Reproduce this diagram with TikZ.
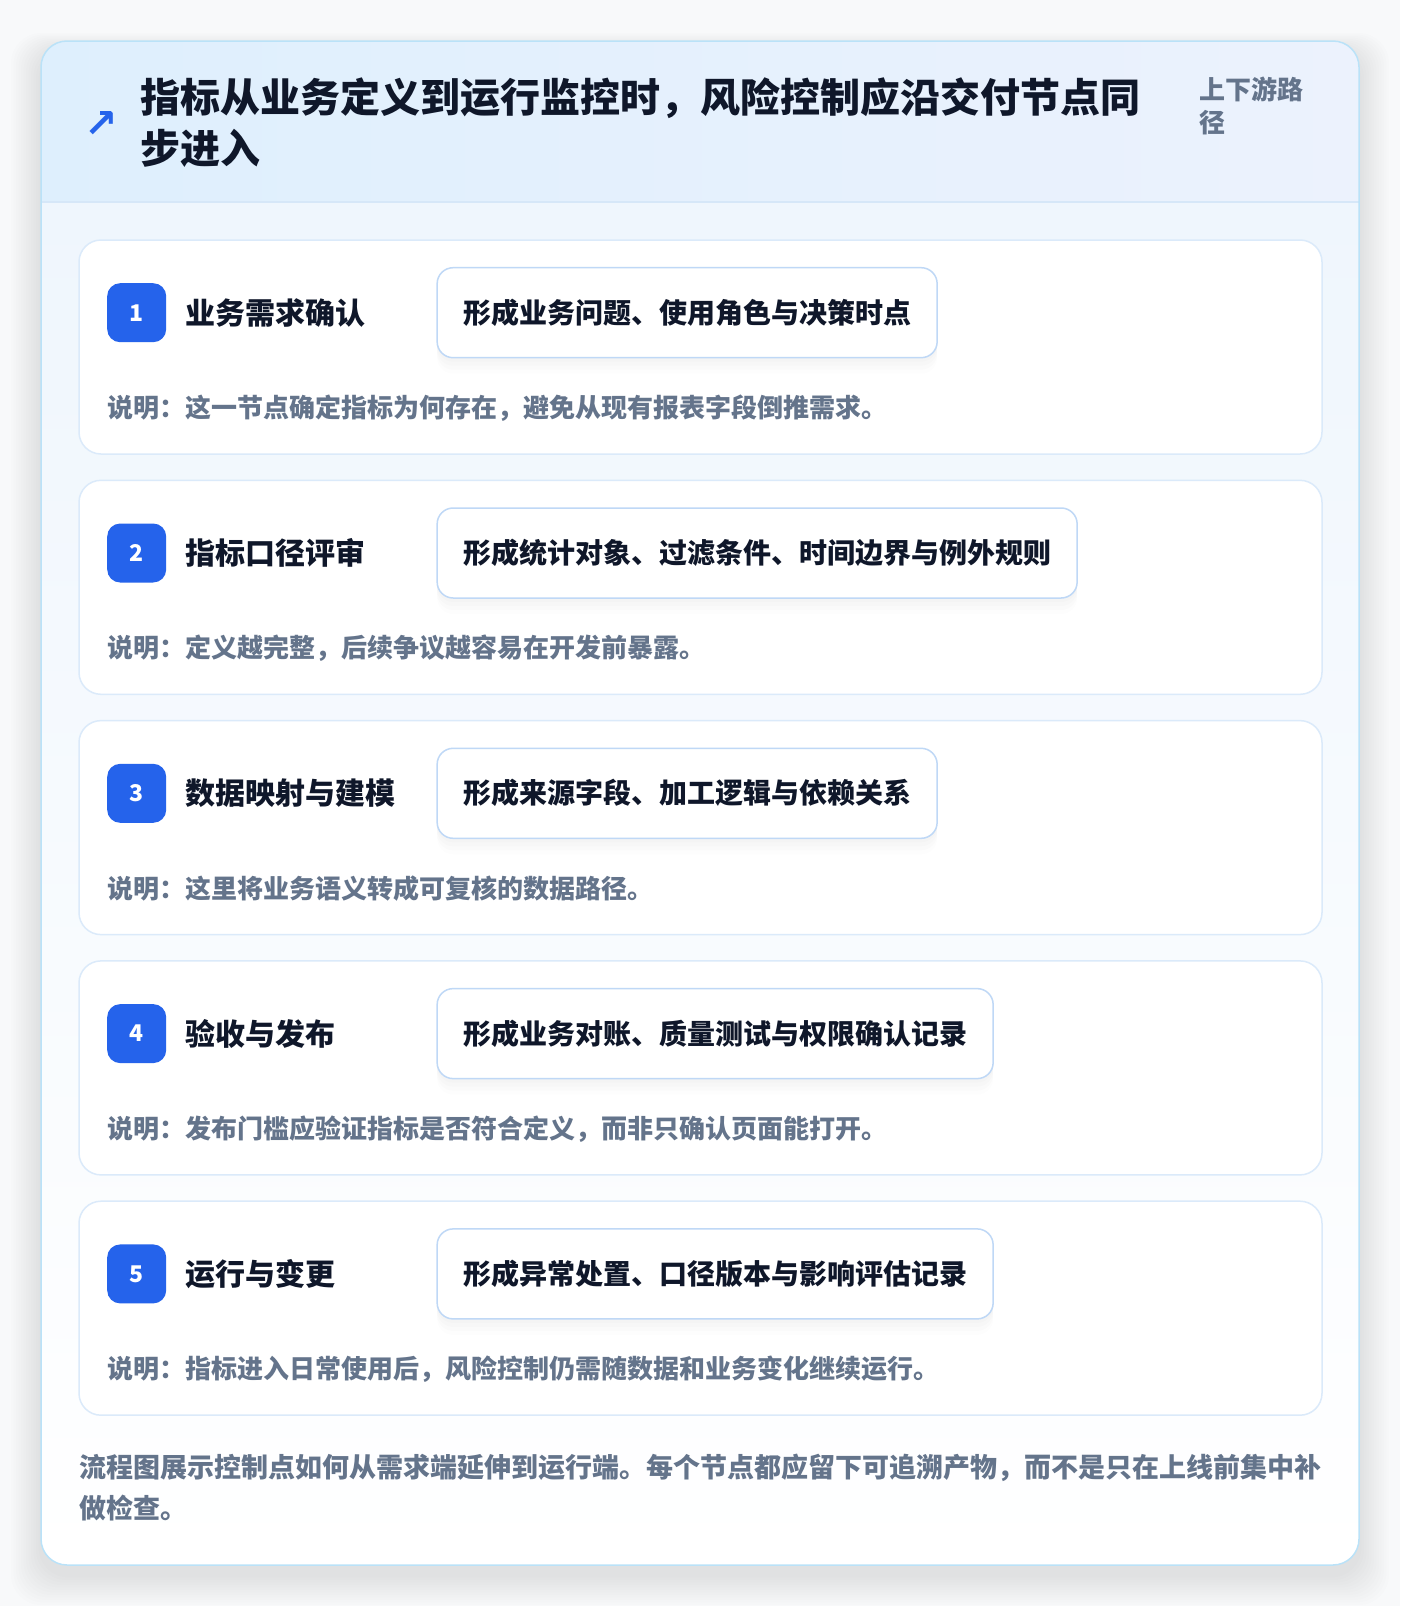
\documentclass[tikz,border=0pt]{standalone}
\usepackage{fontspec}
\setmainfont{Noto Sans CJK SC}
\newfontfamily\symfont{DejaVu Sans}
\usetikzlibrary{positioning}

\definecolor{pagebg}{HTML}{F8F9FA}
\definecolor{frame}{HTML}{BAE2F8}
\definecolor{headl}{HTML}{DEEFFD}
\definecolor{headr}{HTML}{ECF2FD}
\definecolor{headline}{HTML}{D6E7F8}
\definecolor{bodytop}{HTML}{EFF6FD}
\definecolor{cardline}{HTML}{DBEAFA}
\definecolor{boxline}{HTML}{BFD8F6}
\definecolor{badgeblue}{HTML}{2563EB}
\definecolor{ink}{HTML}{0F172A}
\definecolor{muted}{HTML}{64748B}

\begin{document}
\begin{tikzpicture}[x=1pt,y=-1pt]
    \tikzstyle{card}=[draw=cardline,line width=1.5pt,fill=white,rounded corners=22pt,minimum width=1243pt,minimum height=214pt,inner sep=0pt,outer sep=0pt]
    \tikzstyle{badge}=[fill=badgeblue,rounded corners=13pt,minimum size=59pt,inner sep=0pt,text=white,font=\fontsize{23}{23}\selectfont\bfseries]
    \tikzstyle{stitle}=[inner sep=0pt,text=ink,font=\fontsize{30}{30}\selectfont\bfseries]
    \tikzstyle{outbox}=[draw=boxline,line width=1.5pt,fill=white,rounded corners=16pt,minimum height=90pt,inner xsep=26pt,inner ysep=0pt,text=ink,font=\fontsize{28}{28}\selectfont\bfseries,
      preaction={fill=black,opacity=0.012,transform canvas={yshift=-4pt}},
      preaction={fill=black,opacity=0.012,transform canvas={yshift=-8pt}},
      preaction={fill=black,opacity=0.01,transform canvas={yshift=-12pt}},
      preaction={fill=black,opacity=0.008,transform canvas={yshift=-16pt}}]
    \tikzstyle{note}=[inner sep=0pt,text=muted,font=\fontsize{26}{26}\selectfont\bfseries]
    \useasboundingbox (0,0) rectangle (1400,1606);
    \fill[pagebg] (0,0) rectangle (1400,1606);
    % soft shadow under the panel
    \foreach \k in {1,...,12}
      \fill[black,opacity=0.008,rounded corners=30pt] (41-2.5*\k,51-1.5*\k) rectangle (1359+2.5*\k,1575+2.5*\k);
    \begin{scope}
      \clip[rounded corners=26pt] (41,41) rectangle (1359,1565);
      \shade[top color=bodytop,bottom color=white] (41,202) rectangle (1359,1565);
      \shade[left color=headl,right color=headr] (41,41) rectangle (1359,202);
    \end{scope}
    \draw[headline,line width=1.5pt] (41,202) -- (1359,202);
    \draw[frame,line width=1.5pt,rounded corners=26pt] (41,41) rectangle (1359,1565);

    % header
    \node[text=badgeblue,inner sep=0pt,font=\symfont\fontsize{40}{40}\selectfont\bfseries] (icon) at (101.5,125) {↗};
    \node[anchor=north west,inner sep=0pt,align=left,text=ink,font=\fontsize{40}{51}\selectfont\bfseries] (ttl) at (140,78)
      {指标从业务定义到运行监控时，风险控制应沿交付节点同\\步进入};
    \node[anchor=north west,inner sep=0pt,align=left,text=muted,font=\fontsize{26}{33}\selectfont\bfseries] (tag) at (1199,77)
      {上下游路\\径};

    % step 1
    \node[card,anchor=north west] (c1) at (79,240) {};
    \node[badge,below right=43pt and 28pt of c1.north west] (b1) {1};
    \node[stitle,right=19pt of b1] (t1) {业务需求确认};
    \node[outbox,right=270pt of b1] (o1) {形成业务问题、使用角色与决策时点};
    \node[note,below right=168pt and 28pt of c1.north west,anchor=west] (d1) {说明：这一节点确定指标为何存在，避免从现有报表字段倒推需求。};

    % step 2
    \node[card,below=26.3pt of c1] (c2) {};
    \node[badge,below right=43pt and 28pt of c2.north west] (b2) {2};
    \node[stitle,right=19pt of b2] (t2) {指标口径评审};
    \node[outbox,right=270pt of b2] (o2) {形成统计对象、过滤条件、时间边界与例外规则};
    \node[note,below right=168pt and 28pt of c2.north west,anchor=west] (d2) {说明：定义越完整，后续争议越容易在开发前暴露。};

    % step 3
    \node[card,below=26.3pt of c2] (c3) {};
    \node[badge,below right=43pt and 28pt of c3.north west] (b3) {3};
    \node[stitle,right=19pt of b3] (t3) {数据映射与建模};
    \node[outbox,right=270pt of b3] (o3) {形成来源字段、加工逻辑与依赖关系};
    \node[note,below right=168pt and 28pt of c3.north west,anchor=west] (d3) {说明：这里将业务语义转成可复核的数据路径。};

    % step 4
    \node[card,below=26.3pt of c3] (c4) {};
    \node[badge,below right=43pt and 28pt of c4.north west] (b4) {4};
    \node[stitle,right=19pt of b4] (t4) {验收与发布};
    \node[outbox,right=270pt of b4] (o4) {形成业务对账、质量测试与权限确认记录};
    \node[note,below right=168pt and 28pt of c4.north west,anchor=west] (d4) {说明：发布门槛应验证指标是否符合定义，而非只确认页面能打开。};

    % step 5
    \node[card,below=26.3pt of c4] (c5) {};
    \node[badge,below right=43pt and 28pt of c5.north west] (b5) {5};
    \node[stitle,right=19pt of b5] (t5) {运行与变更};
    \node[outbox,right=270pt of b5] (o5) {形成异常处置、口径版本与影响评估记录};
    \node[note,below right=168pt and 28pt of c5.north west,anchor=west] (d5) {说明：指标进入日常使用后，风险控制仍需随数据和业务变化继续运行。};

    % footer
    \node[note,below=39pt of c5.south west,anchor=north west,align=left,font=\fontsize{27}{41}\selectfont\bfseries] (foot)
      {流程图展示控制点如何从需求端延伸到运行端。每个节点都应留下可追溯产物，而不是只在上线前集中补\\做检查。};
\end{tikzpicture}
\end{document}
